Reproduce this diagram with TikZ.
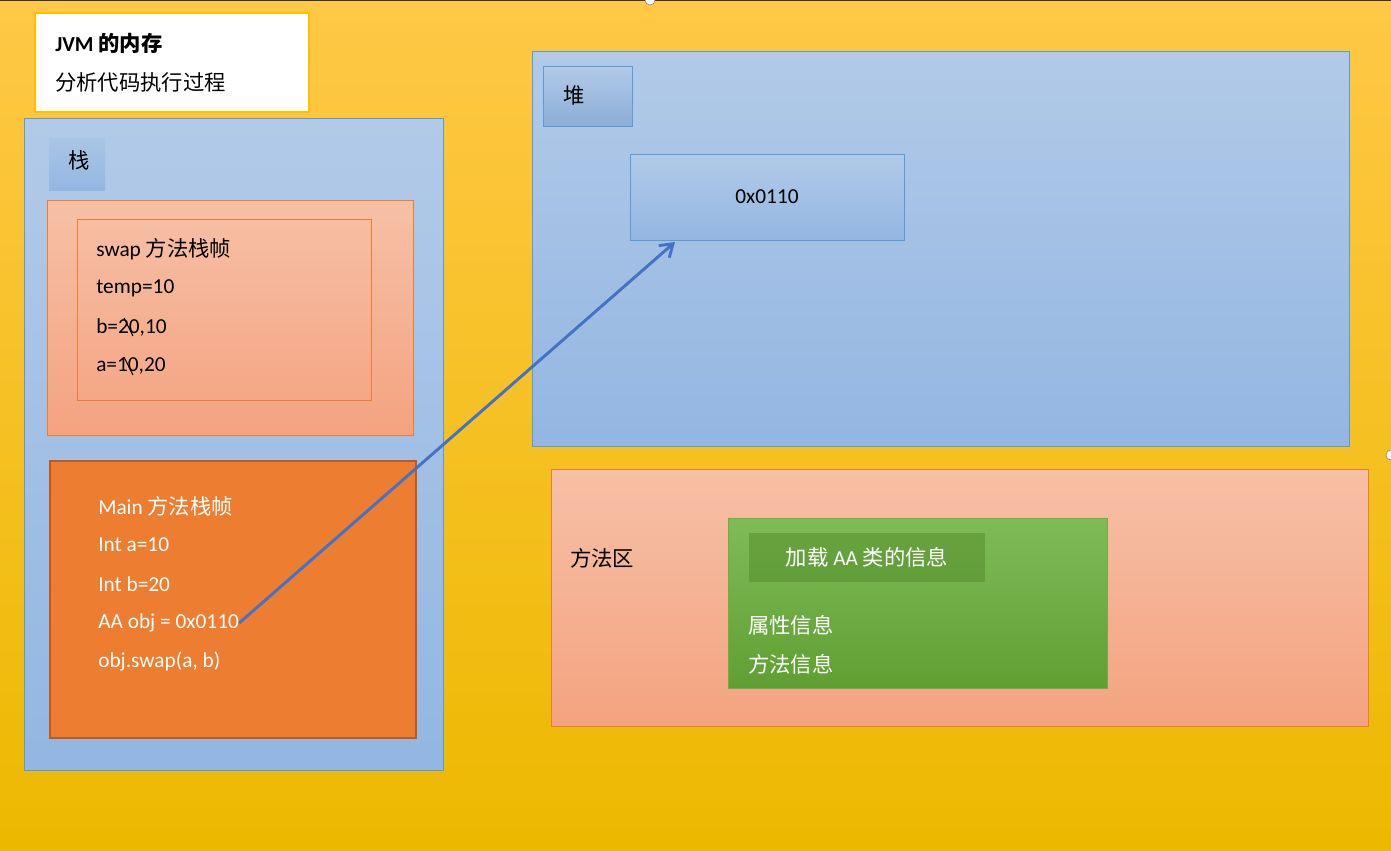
\documentclass[tikz,border=0pt]{standalone}
\usepackage{fontspec}
\setmainfont{Carlito}
\newfontfamily\cjk{Noto Sans CJK SC}
\usetikzlibrary{fit,arrows.meta}
\definecolor{bluetop}{HTML}{B2CAE8}
\definecolor{bluebot}{HTML}{93B6E2}
\definecolor{blueline}{HTML}{5B9BD5}
\definecolor{saltop}{HTML}{F6C0A6}
\definecolor{salbot}{HTML}{F4A380}
\definecolor{orangeline}{HTML}{ED7D31}
\definecolor{mainfill}{HTML}{ED7D31}
\definecolor{mainline}{HTML}{C0591A}
\definecolor{greentop}{HTML}{7FBC58}
\definecolor{greenbot}{HTML}{5F9F32}
\definecolor{greenline}{HTML}{70AD47}
\definecolor{arrowblue}{HTML}{4472C4}
\tikzset{
 x=0.75pt,y=-0.75pt,
 box/.style={inner sep=0pt,outer sep=0pt},
 bluebox/.style={box,draw=blueline,line width=0.6pt,top color=bluetop,bottom color=bluebot},
 salbox/.style={box,draw=orangeline,line width=0.6pt,top color=saltop,bottom color=salbot},
 txt/.style={anchor=west,inner sep=0pt,font=\fontsize{16}{18}\selectfont},
 wtxt/.style={txt,text=white},
}
\begin{document}
\begin{tikzpicture}
\useasboundingbox (0,0) rectangle (1391,850);
\shade[top color={rgb,255:red,255;green,200;blue,70},bottom color={rgb,255:red,236;green,185;blue,0}] (0,0) rectangle (1391,850);
\draw[line width=1.5pt,black!80] (0,0) -- (1391,0);
% title
\node[box,fit={(35,13) (309,112)},fill=white,draw={rgb,255:red,255;green,192;blue,0},line width=2.2pt] (title) {};
\node[txt,font=\fontsize{16}{18}\selectfont\bfseries] (t1) at (55,43) {JVM {\cjk 的内存}};
\node[txt] (t2) at (55,82) {\cjk 分析代码执行过程};
% stack
\node[bluebox,fit={(24,118) (443,770)}] (stack) {};
\node[box,fit={(49,138) (105,190)},top color=bluetop!90!blueline,bottom color=bluebot] (stacklbl) {};
\node[txt] at (68,160) {\cjk 栈};
\node[salbox,fit={(47,200) (413,435)}] (swapouter) {};
\node[box,fit={(77,219) (371,400)},draw=orangeline,line width=0.6pt] (swapinner) {};
\node[txt] (s1) at (96,249) {swap {\cjk 方法栈帧}};
\node[txt] (s2) at (96,288) {temp=10};
\node[txt] (s3) at (96,327) {b=20,10};
\node[txt] (s4) at (96,366) {a=10,20};
\draw[line width=0.8pt] (124,318) -- (133,336);
\draw[line width=0.8pt] (124,357) -- (133,375);
% main frame
\node[box,fit={(50,461) (416,738)},fill=mainfill,draw=mainline,line width=2.2pt] (mainf) {};
\node[wtxt] (m1) at (98,506) {Main {\cjk 方法栈帧}};
\node[wtxt] (m2) at (98,545) {Int a=10};
\node[wtxt] (m3) at (98,584) {Int b=20};
\node[wtxt] (m4) at (98,623) {AA obj = 0x0110};
\node[wtxt] (m5) at (98,662) {obj.swap(a, b)};
% heap
\node[bluebox,fit={(532,51) (1349,446)}] (heap) {};
\node[box,fit={(543,66) (632,126)},draw=blueline,line width=0.6pt,top color=bluetop,bottom color=bluebot!95!black] (heaplbl) {};
\node[txt] at (563,95) {\cjk 堆};
\node[bluebox,fit={(630,154) (904,240)}] (obj) {};
\node[font=\fontsize{16}{18}\selectfont] at (obj.center) {0x0110};
% method area
\node[salbox,fit={(551,469) (1368,726)}] (marea) {};
\node[txt] (ma) at (570,558) {\cjk 方法区};
\node[box,fit={(728,518) (1107,688)},draw=greenline,line width=0.6pt,top color=greentop,bottom color=greenbot] (cls) {};
\node[box,fit={(749,533) (985,582)},fill=greenbot!90!black,opacity=0.55] (clshead) {};
\node[font=\fontsize{16}{18}\selectfont,text=white] at (clshead.center) {{\cjk 加载} AA {\cjk 类的信息}};
\node[wtxt] (c1) at (748,625) {\cjk 属性信息};
\node[wtxt] (c2) at (748,664) {\cjk 方法信息};
% arrow
\coordinate (tip) at (675,242);
\draw[arrowblue,line width=2.2pt,-{Straight Barb[length=9pt,width=12pt]}] (m4.east) -- (tip);
% handles
\draw[gray,fill=white] (650,0) circle (5);
\draw[gray,fill=white] (1391,455) circle (5);
\end{tikzpicture}
\end{document}
